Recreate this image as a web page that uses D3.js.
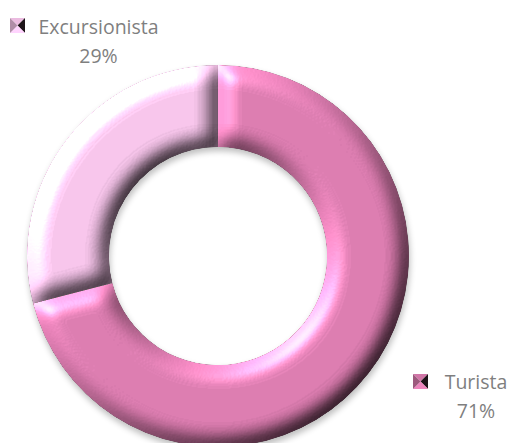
<!DOCTYPE html>
<html>
<head>
<meta charset="utf-8">
<script src="https://cdn.jsdelivr.net/npm/d3@7"></script>
<style>
  html, body { margin: 0; padding: 0; background: #fff; }
  svg { display: block; }
  .lbl { font-family: "Open Sans", sans-serif; font-size: 19.5px; fill: #7f7f7f; }
</style>
</head>
<body>
<div id="chart"></div>
<script>
// chart data
const categories = ['Turista', 'Excursionista'];
const values = [71, 29];
const colors = ['#d97aad', '#f4c2e8'];

const width = 510, height = 443;
const cx = 218, cy = 256;
const outerR = 191, innerR = 109;

const svg = d3.select('#chart')
    .append('svg')
    .attr('width', width)
    .attr('height', height);

const defs = svg.append('defs');

// bevel lighting filter, light coming from top-left
const bevel = defs.append('filter')
    .attr('id', 'bevel')
    .attr('x', '-10%').attr('y', '-10%')
    .attr('width', '120%').attr('height', '120%')
    .attr('color-interpolation-filters', 'sRGB');
bevel.append('feGaussianBlur')
    .attr('in', 'SourceAlpha').attr('stdDeviation', 9.5).attr('result', 'blur');
bevel.append('feDiffuseLighting')
    .attr('in', 'blur').attr('surfaceScale', 9).attr('diffuseConstant', 1)
    .attr('lighting-color', '#fff').attr('result', 'diff')
    .append('feDistantLight').attr('azimuth', 225).attr('elevation', 40);
// flat face keeps its colour: 1.2 * sin(40deg) + 0.23 ~ 1
bevel.append('feComposite')
    .attr('in', 'SourceGraphic').attr('in2', 'diff')
    .attr('operator', 'arithmetic').attr('k1', 1.2).attr('k2', 0.23).attr('result', 'lit');
bevel.append('feSpecularLighting')
    .attr('in', 'blur').attr('surfaceScale', 9).attr('specularConstant', 0.3)
    .attr('specularExponent', 30).attr('lighting-color', '#fff').attr('result', 'spec')
    .append('feDistantLight').attr('azimuth', 225).attr('elevation', 40);
bevel.append('feComposite')
    .attr('in', 'spec').attr('in2', 'SourceAlpha').attr('operator', 'in').attr('result', 'specIn');
bevel.append('feComposite')
    .attr('in', 'lit').attr('in2', 'SourceAlpha').attr('operator', 'in').attr('result', 'litIn');
bevel.append('feComposite')
    .attr('in', 'specIn').attr('in2', 'litIn')
    .attr('operator', 'arithmetic').attr('k2', 1).attr('k3', 1);

// soft shadow under the ring
const shadow = defs.append('filter')
    .attr('id', 'shadow')
    .attr('x', '-10%').attr('y', '-10%')
    .attr('width', '120%').attr('height', '120%');
shadow.append('feGaussianBlur').attr('stdDeviation', 3);

const pie = d3.pie().sort(null).value(d => d);
const arcs = pie(values);

const arc = d3.arc()
    .innerRadius(innerR)
    .outerRadius(outerR);

const g = svg.append('g')
    .attr('transform', 'translate(' + cx + ',' + cy + ')');

g.append('path')
    .attr('d', arc({ startAngle: 0, endAngle: 2 * Math.PI }))
    .attr('transform', 'translate(1,4)')
    .attr('fill', '#000')
    .attr('opacity', 0.25)
    .attr('filter', 'url(#shadow)');

g.selectAll('path.slice')
    .data(arcs)
    .enter()
    .append('path')
    .attr('class', 'slice')
    .attr('d', arc)
    .attr('fill', (d, i) => colors[i])
    .attr('filter', 'url(#bevel)');

// data labels with legend key
const total = d3.sum(values);
const labelPos = [
    { x: 476, y: 389, kx: 413, ky: 374 },
    { x: 98.5, y: 34, kx: 10, ky: 18 }
];
const keySize = 15;

categories.forEach((name, i) => {
    const p = labelPos[i];
    const base = d3.color(colors[i]);
    const k = svg.append('g').attr('transform', 'translate(' + p.kx + ',' + p.ky + ')');
    const c = [keySize / 2, keySize / 2];
    const tris = [
        { pts: [[0, 0], [keySize, 0], c], fill: base.darker(0.1) },
        { pts: [[keySize, 0], [keySize, keySize], c], fill: '#1e1419' },
        { pts: [[keySize, keySize], [0, keySize], c], fill: base.brighter(0.25) },
        { pts: [[0, keySize], [0, 0], c], fill: base.darker(0.9) }
    ];
    k.selectAll('polygon')
        .data(tris)
        .enter()
        .append('polygon')
        .attr('points', d => d.pts.map(q => q.join(',')).join(' '))
        .attr('fill', d => d.fill);

    svg.append('text')
        .attr('class', 'lbl')
        .attr('x', p.x).attr('y', p.y)
        .attr('text-anchor', 'middle')
        .text(name);
    svg.append('text')
        .attr('class', 'lbl')
        .attr('x', p.x).attr('y', p.y + 29)
        .attr('text-anchor', 'middle')
        .text(Math.round(values[i] / total * 100) + '%');
});
</script>
</body>
</html>
